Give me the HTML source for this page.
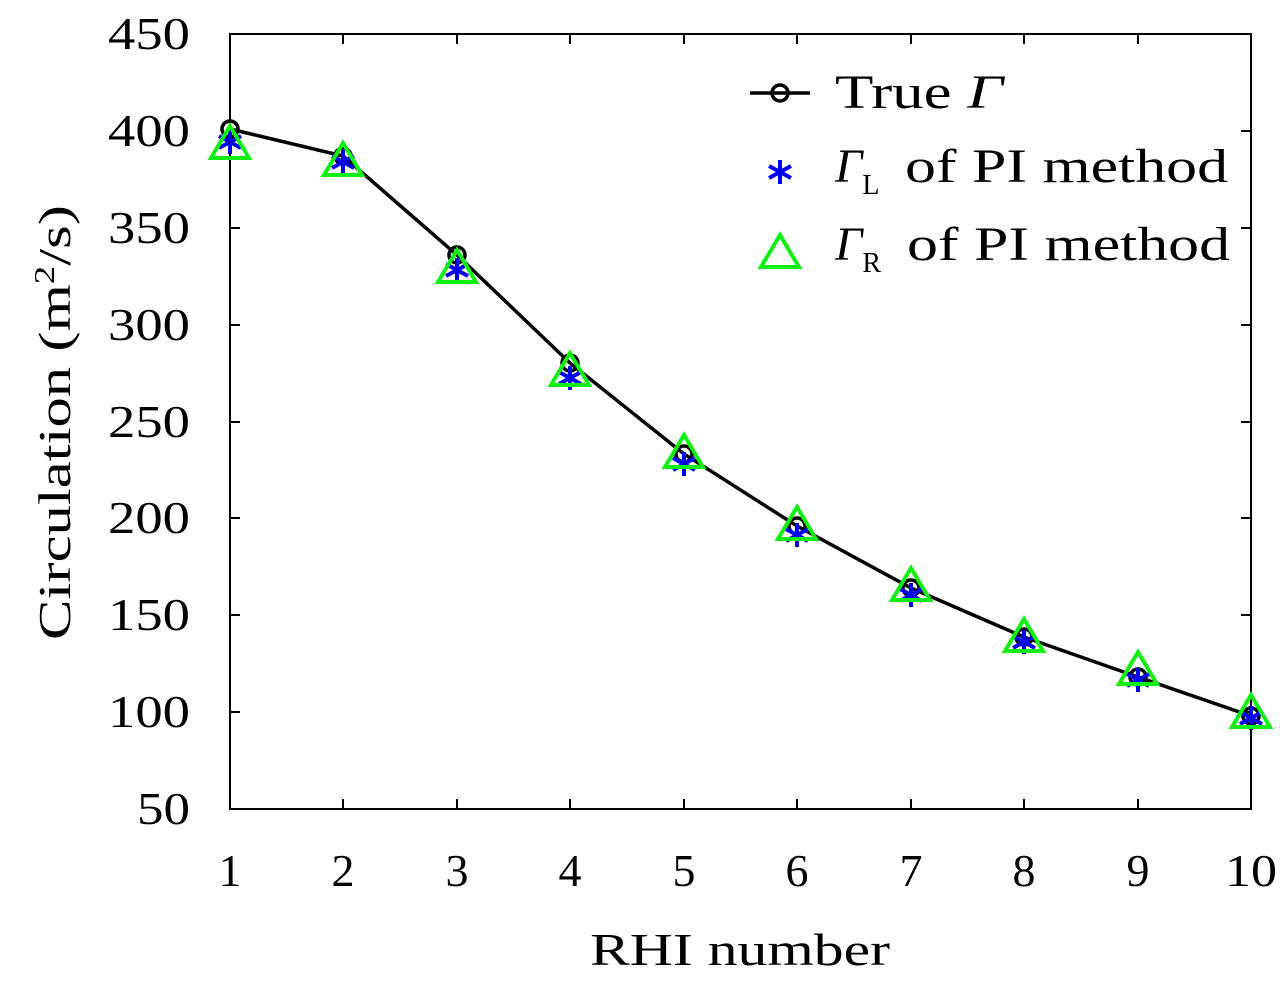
<!DOCTYPE html>
<html><head><style>body{margin:0;background:#fff}svg{display:block}text{font-family:"Liberation Serif",serif;fill:#000}</style></head><body>
<svg width="1280" height="982" viewBox="0 0 1280 982" xmlns="http://www.w3.org/2000/svg">
<defs>
<g id="st" stroke="#0000ee" stroke-width="4"><line x1="0" y1="-12" x2="0" y2="12"/><line x1="-11" y1="-6" x2="11" y2="6"/><line x1="-11" y1="6" x2="11" y2="-6"/></g>
<polygon id="tr" points="0,-19 19,13 -19,13" fill="none" stroke="#11ee11" stroke-width="4"/>
<circle id="ci" r="8" fill="none" stroke="#000" stroke-width="3.5"/>
</defs>
<rect x="230" y="34" width="1021" height="775" fill="none" stroke="#000" stroke-width="2"/>
<g stroke="#000" stroke-width="2">
<path d="M230,712h10M230,615h10M230,518h10M230,422h10M230,325h10M230,228h10M230,131h10M1251,712h-10M1251,615h-10M1251,518h-10M1251,422h-10M1251,325h-10M1251,228h-10M1251,131h-10"/>
<path d="M343,809v-10M457,809v-10M570,809v-10M684,809v-10M797,809v-10M911,809v-10M1024,809v-10M1138,809v-10M343,34v10M457,34v10M570,34v10M684,34v10M797,34v10M911,34v10M1024,34v10M1138,34v10"/>
</g>
<g font-size="46" lengthAdjust="spacingAndGlyphs">
<text x="137" y="824" textLength="53" lengthAdjust="spacingAndGlyphs">50</text>
<text x="108" y="727" textLength="82" lengthAdjust="spacingAndGlyphs">100</text>
<text x="108" y="630" textLength="82" lengthAdjust="spacingAndGlyphs">150</text>
<text x="108" y="533" textLength="82" lengthAdjust="spacingAndGlyphs">200</text>
<text x="108" y="437" textLength="82" lengthAdjust="spacingAndGlyphs">250</text>
<text x="108" y="340" textLength="82" lengthAdjust="spacingAndGlyphs">300</text>
<text x="108" y="243" textLength="82" lengthAdjust="spacingAndGlyphs">350</text>
<text x="108" y="146" textLength="82" lengthAdjust="spacingAndGlyphs">400</text>
<text x="108" y="49" textLength="82" lengthAdjust="spacingAndGlyphs">450</text>
</g>
<g font-size="46" text-anchor="middle">
<text x="230" y="886">1</text><text x="343" y="886">2</text><text x="457" y="886">3</text><text x="570" y="886">4</text><text x="684" y="886">5</text><text x="797" y="886">6</text><text x="911" y="886">7</text><text x="1024" y="886">8</text><text x="1138" y="886">9</text>
</g>
<g font-size="46">
<text x="1225" y="886" textLength="52" lengthAdjust="spacingAndGlyphs">10</text>
<text x="590" y="965" textLength="300" lengthAdjust="spacingAndGlyphs">RHI number</text>
<text transform="translate(70,640) rotate(-90)" textLength="435" lengthAdjust="spacingAndGlyphs">Circulation (m<tspan font-size="28" dy="-16">2</tspan><tspan dy="16">/s)</tspan></text>
</g>
<polyline points="230,129 343,156 457,255 570,363 684,454 797,526 911,588 1024,637 1138,677 1251,716" fill="none" stroke="#000" stroke-width="3.5"/>
<g>
<use href="#ci" x="230" y="129"/><use href="#ci" x="343" y="156"/><use href="#ci" x="457" y="255"/><use href="#ci" x="570" y="363"/><use href="#ci" x="684" y="454"/><use href="#ci" x="797" y="526"/><use href="#ci" x="911" y="588"/><use href="#ci" x="1024" y="637"/><use href="#ci" x="1138" y="677"/><use href="#ci" x="1251" y="716"/>
<use href="#st" x="230" y="142"/><use href="#st" x="343" y="162"/><use href="#st" x="457" y="270"/><use href="#st" x="570" y="378"/><use href="#st" x="684" y="464"/><use href="#st" x="797" y="535"/><use href="#st" x="911" y="595"/><use href="#st" x="1024" y="642"/><use href="#st" x="1138" y="680"/><use href="#st" x="1251" y="718"/>
<use href="#tr" x="230" y="145"/><use href="#tr" x="343" y="162"/><use href="#tr" x="457" y="269"/><use href="#tr" x="570" y="372"/><use href="#tr" x="684" y="454"/><use href="#tr" x="797" y="526"/><use href="#tr" x="911" y="587"/><use href="#tr" x="1024" y="638"/><use href="#tr" x="1138" y="671"/><use href="#tr" x="1251" y="714"/>
</g>
<line x1="750" y1="93" x2="810" y2="93" stroke="#000" stroke-width="3.5"/>
<use href="#ci" x="780" y="93"/>
<use href="#st" x="780" y="172"/>
<use href="#tr" x="780" y="254"/>
<g font-size="48">
<text x="835" y="108" textLength="168" lengthAdjust="spacingAndGlyphs">True <tspan font-style="italic">Γ</tspan></text>
<text x="835" y="182"><tspan font-style="italic">Γ</tspan><tspan font-size="28" dy="12">L</tspan><tspan dy="-12" x="905" textLength="323" lengthAdjust="spacingAndGlyphs">of PI method</tspan></text>
<text x="835" y="260"><tspan font-style="italic">Γ</tspan><tspan font-size="28" dy="12">R</tspan><tspan dy="-12" x="907" textLength="323" lengthAdjust="spacingAndGlyphs">of PI method</tspan></text>
</g>
</svg>
</body></html>
